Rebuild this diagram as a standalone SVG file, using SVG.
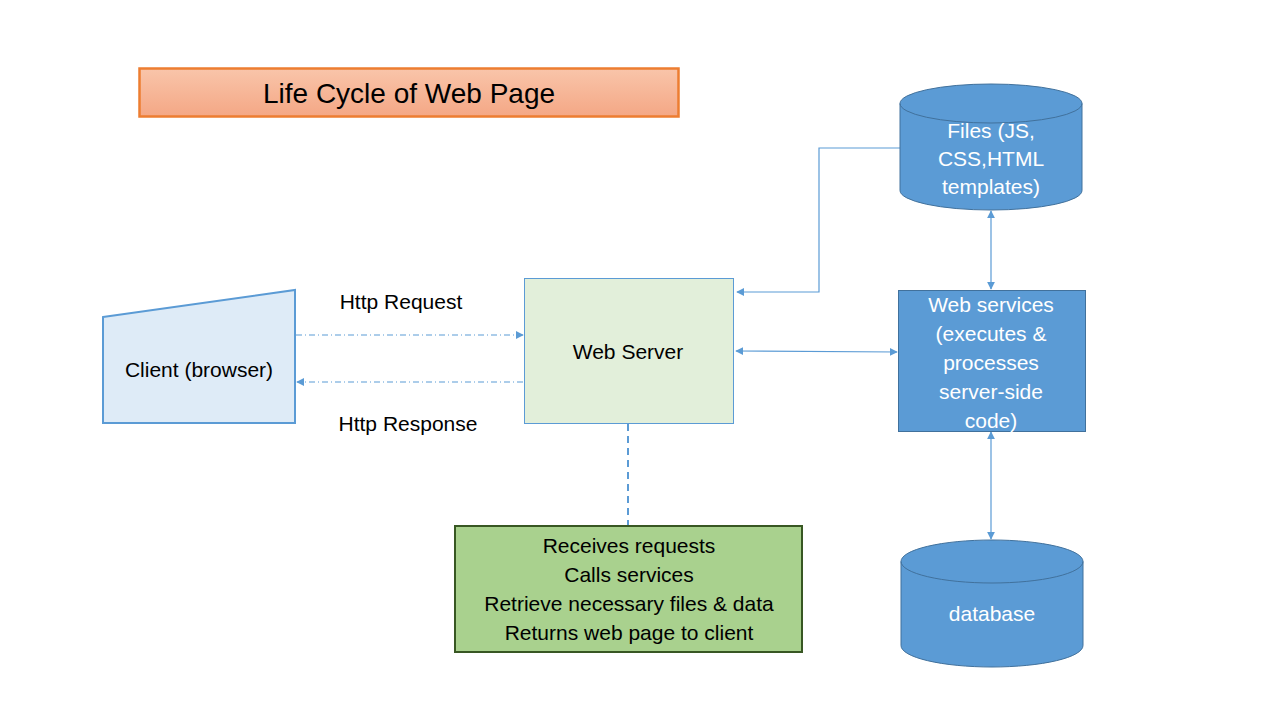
<svg xmlns="http://www.w3.org/2000/svg" width="1280" height="720" viewBox="0 0 1280 720">
<defs>
<linearGradient id="tg" x1="0" y1="0" x2="0" y2="1">
<stop offset="0" stop-color="#F9C5AA"/>
<stop offset="1" stop-color="#F4A785"/>
</linearGradient>
<marker id="ah" viewBox="0 0 10 10" refX="9" refY="5" markerWidth="8" markerHeight="8" markerUnits="userSpaceOnUse" orient="auto-start-reverse">
<path d="M0,0 L10,5 L0,10 z" fill="#5B9BD5"/>
</marker>
</defs>
<style>
text{font-family:"Liberation Sans",Arial,sans-serif;text-anchor:middle;dominant-baseline:central}
.dk{fill:#000;font-size:21px}
.wt{fill:#fff;font-size:21px}
.con{fill:none;stroke:#5B9BD5;stroke-width:1.2}
.dd{stroke-dasharray:6 3 1 3}
.cyl{fill:#5B9BD5;stroke:#41719C;stroke-width:1}
</style>
<rect width="1280" height="720" fill="#fff"/>
<g id="title">
<rect x="139.5" y="68.5" width="539" height="48" fill="url(#tg)" stroke="#ED7D31" stroke-width="2.5"/>
<text x="409" y="93" style="font-size:28px" fill="#000">Life Cycle of Web Page</text>
</g>
<g id="connectors">
<line class="con dd" x1="296" y1="335" x2="523" y2="335" marker-end="url(#ah)"/>
<line class="con dd" x1="523" y1="382" x2="297" y2="382" marker-end="url(#ah)"/>
<polyline class="con" points="902,148 819,148 819,292 737,292" marker-end="url(#ah)"/>
<line class="con" x1="736" y1="351" x2="897" y2="352" marker-start="url(#ah)" marker-end="url(#ah)"/>
<line class="con" x1="991" y1="211" x2="991" y2="289" marker-start="url(#ah)" marker-end="url(#ah)"/>
<line class="con" x1="991" y1="432" x2="991" y2="539" marker-start="url(#ah)" marker-end="url(#ah)"/>
<line x1="628" y1="424" x2="628" y2="525" stroke="#5B9BD5" stroke-width="2" stroke-dasharray="7 5"/>
</g>
<g id="http-request"><text class="dk" x="401" y="301">Http Request</text></g>
<g id="http-response"><text class="dk" x="408" y="423">Http Response</text></g>
<g id="client">
<polygon points="103,317 295,290 295,423 103,423" fill="#DEEBF7" stroke="#5B9BD5" stroke-width="2"/>
<text class="dk" x="199" y="369">Client (browser)</text>
</g>
<g id="web-server">
<rect x="524.5" y="278.5" width="209" height="145" fill="#E2EFDA" stroke="#5B9BD5" stroke-width="1"/>
<text class="dk" x="628" y="351">Web Server</text>
</g>
<g id="files">
<path class="cyl" d="M900,103.5 A91,19.5 0 0 1 1082,103.5 L1082,190.5 A91,19.5 0 0 1 900,190.5 Z"/>
<path d="M900,103.5 A91,19.5 0 0 0 1082,103.5" fill="none" stroke="#41719C" stroke-width="1"/>
<text class="wt" x="991" y="130">Files (JS,</text>
<text class="wt" x="991" y="158">CSS,HTML</text>
<text class="wt" x="991" y="186">templates)</text>
</g>
<g id="web-services">
<rect x="898.5" y="290.5" width="187" height="141" fill="#5B9BD5" stroke="#41719C" stroke-width="1"/>
<text class="wt" x="991" y="304">Web services</text>
<text class="wt" x="991" y="333">(executes &amp;</text>
<text class="wt" x="991" y="362">processes</text>
<text class="wt" x="991" y="391">server-side</text>
<text class="wt" x="991" y="420">code)</text>
</g>
<g id="database">
<path class="cyl" d="M901,561.5 A91,21.5 0 0 1 1083,561.5 L1083,645.5 A91,21.5 0 0 1 901,645.5 Z"/>
<path d="M901,561.5 A91,21.5 0 0 0 1083,561.5" fill="none" stroke="#41719C" stroke-width="1"/>
<text class="wt" x="992" y="613">database</text>
</g>
<g id="server-duties">
<rect x="455" y="526" width="347" height="126" fill="#A9D18E" stroke="#385723" stroke-width="2"/>
<text class="dk" x="629" y="545">Receives requests</text>
<text class="dk" x="629" y="574">Calls services</text>
<text class="dk" x="629" y="603">Retrieve necessary files &amp; data</text>
<text class="dk" x="629" y="632">Returns web page to client</text>
</g>
</svg>
